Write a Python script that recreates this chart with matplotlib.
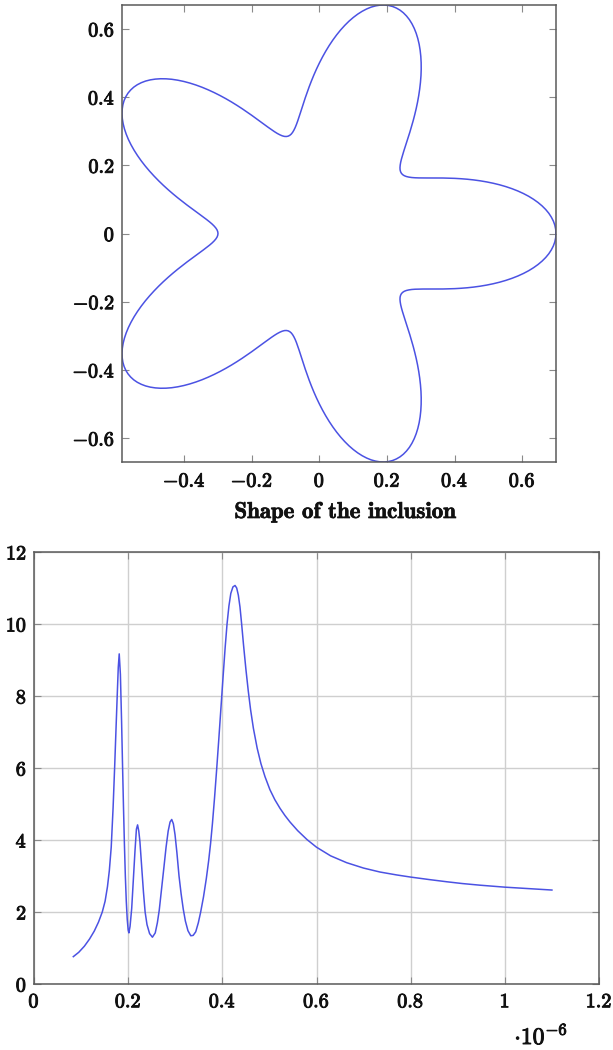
import numpy as np
import matplotlib
matplotlib.use("Agg")
import matplotlib.pyplot as plt
import matplotlib.patheffects as pe
from matplotlib.ticker import FixedLocator, FuncFormatter

# ---------------- data ----------------
# Shape of the inclusion: radius read along one half lobe (angle in degrees, 0..36)
star_angles_deg = list(range(0, 37))
star_radius = [0.7000, 0.6992, 0.6970, 0.6932, 0.6879, 0.6813, 0.6732, 0.6638, 0.6532,
               0.6414, 0.6286, 0.6147, 0.6000, 0.5845, 0.5684, 0.5518, 0.5347, 0.5174,
               0.5000, 0.4826, 0.4653, 0.4482, 0.4316, 0.4155, 0.4000, 0.3853, 0.3714,
               0.3586, 0.3468, 0.3362, 0.3268, 0.3187, 0.3121, 0.3068, 0.3030, 0.3008,
               0.3000]
n_lobes = 5

# Lower chart (x in units of 1e-6)
wavelength = [0.0835, 0.095, 0.107, 0.118, 0.128, 0.137, 0.145, 0.151, 0.156, 0.160,
              0.164, 0.168, 0.1715, 0.1745, 0.177, 0.179, 0.181, 0.1835, 0.186, 0.188,
              0.190, 0.192, 0.194, 0.196, 0.198, 0.200, 0.2015, 0.204, 0.2075, 0.211,
              0.2145, 0.2175, 0.220, 0.2225, 0.225, 0.229, 0.2325, 0.236, 0.240, 0.2455,
              0.2515, 0.2575, 0.262, 0.266, 0.271, 0.276, 0.2805, 0.285, 0.289, 0.2925,
              0.296, 0.2995, 0.3035, 0.308, 0.3125, 0.317, 0.3215, 0.327, 0.333, 0.338,
              0.3435, 0.349, 0.354, 0.360, 0.366, 0.371, 0.375, 0.379, 0.3835, 0.388,
              0.3925, 0.397, 0.4015, 0.406, 0.410, 0.414, 0.418, 0.4225, 0.427, 0.4305,
              0.434, 0.4375, 0.441, 0.445, 0.450, 0.455, 0.460, 0.466, 0.474, 0.482,
              0.4906, 0.501, 0.5115, 0.5225, 0.533, 0.5437, 0.56, 0.58, 0.60, 0.63,
              0.664, 0.70, 0.735, 0.77, 0.80, 0.84, 0.8766, 0.91, 0.947, 1.00,
              1.05, 1.10]
response = [0.76, 0.88, 1.05, 1.25, 1.47, 1.72, 2.0, 2.3, 2.7, 3.15,
            3.8, 4.9, 6.1, 7.2, 8.1, 8.8, 9.17, 8.6, 7.3, 6.1,
            4.95, 3.9, 3.0, 2.3, 1.8, 1.5, 1.42, 1.6, 2.1, 2.9,
            3.7, 4.3, 4.42, 4.25, 3.95, 3.2, 2.55, 2.0, 1.65, 1.40,
            1.30, 1.42, 1.70, 2.05, 2.65, 3.25, 3.8, 4.25, 4.5, 4.57,
            4.45, 4.15, 3.65, 3.0, 2.5, 2.08, 1.75, 1.48, 1.34, 1.35,
            1.45, 1.7, 2.0, 2.42, 2.93, 3.43, 3.9, 4.46, 5.18, 5.97,
            6.8, 7.66, 8.52, 9.35, 10.0, 10.5, 10.85, 11.03, 11.07, 11.0,
            10.8, 10.47, 10.0, 9.42, 8.75, 8.15, 7.62, 7.1, 6.55, 6.12,
            5.76, 5.40, 5.12, 4.88, 4.68, 4.50, 4.26, 4.01, 3.80, 3.56,
            3.37, 3.22, 3.11, 3.03, 2.97, 2.90, 2.84, 2.79, 2.745, 2.69,
            2.65, 2.61]

top_xticks = [-0.4, -0.2, 0, 0.2, 0.4, 0.6]
top_yticks = [-0.6, -0.4, -0.2, 0, 0.2, 0.4, 0.6]
bot_xticks = [0, 0.2, 0.4, 0.6, 0.8, 1.0, 1.2]
bot_yticks = [0, 2, 4, 6, 8, 10, 12]

# ---------------- style ----------------
plt.rcParams["mathtext.fontset"] = "cm"
LINE = "#4b52e3"
SPINE = "#5a5a5a"
TICKC = "#8a8a8a"
GRID = "#cfcfcf"
TICK_FS = 14.5
TXT = "#111111"
heavy = [pe.withStroke(linewidth=0.7, foreground=TXT)]


def fmt(v, pos=None):
    if abs(v) < 1e-12:
        s = "0"
    elif abs(v - round(v)) < 1e-9:
        s = "%d" % round(v)
    else:
        s = ("%.1f" % v)
    return r"$\mathbf{%s}$" % s


W, H = 613, 1050
fig = plt.figure(figsize=(W / 100, H / 100), dpi=100)


def rect(l, t, r, b):
    return [l / W, 1 - b / H, (r - l) / W, (b - t) / H]


def style_axes(ax):
    ax.xaxis.set_major_formatter(FuncFormatter(fmt))
    ax.yaxis.set_major_formatter(FuncFormatter(fmt))
    ax.tick_params(direction="in", length=5, width=0.8, color=TICKC,
                   top=True, right=True, labelsize=TICK_FS, labelcolor=TXT)
    for sp in ax.spines.values():
        sp.set_color(SPINE)
        sp.set_linewidth(1.1)


def heavy_labels(ax):
    fig.canvas.draw()
    for lab in ax.get_xticklabels() + ax.get_yticklabels():
        lab.set_path_effects(heavy)


# ---- star shape ----
half = list(zip(star_angles_deg, star_radius))
lobe = half + [(72 - a, r) for a, r in reversed(half[1:-1])]
ang, rad = [], []
for j in range(n_lobes):
    for a, r in lobe:
        ang.append(np.deg2rad(72 * j + a))
        rad.append(r)
ang.append(ang[0]); rad.append(rad[0])
ang = np.array(ang); rad = np.array(rad)
sx = rad * np.cos(ang)
sy = rad * np.sin(ang)

ax1 = fig.add_axes(rect(122, 5, 556, 462))
ax1.plot(sx, sy, color=LINE, lw=1.1, solid_joinstyle="round")
ax1.set_xlim(sx.min(), sx.max())
ax1.set_ylim(sy.min(), sy.max())
ax1.xaxis.set_major_locator(FixedLocator(top_xticks))
ax1.yaxis.set_major_locator(FixedLocator(top_yticks))
style_axes(ax1)
ax1.tick_params(axis="x", pad=7)
ax1.tick_params(axis="y", pad=5)

fig.text(345 / W, 1 - 518 / H, "Shape of the inclusion", fontname="cmb10",
         fontsize=16.5, ha="center", va="baseline", color=TXT,
         path_effects=[pe.withStroke(linewidth=0.5, foreground=TXT)])

# ---- lower chart ----
ax2 = fig.add_axes(rect(34, 552, 599, 984))
ax2.plot(wavelength, response, color=LINE, lw=1.1, solid_joinstyle="round")
ax2.set_xlim(0, 1.2)
ax2.set_ylim(0, 12)
ax2.xaxis.set_major_locator(FixedLocator(bot_xticks))
ax2.yaxis.set_major_locator(FixedLocator(bot_yticks))
ax2.grid(True, color=GRID, lw=1.0)
ax2.set_axisbelow(True)
style_axes(ax2)
ax2.tick_params(axis="x", pad=6)
ax2.tick_params(axis="y", pad=5)

fig.text(568 / W, 1 - 1044 / H, r"$\mathbf{\cdot 10^{-6}}$", fontsize=17,
         ha="right", va="baseline", color=TXT, path_effects=heavy)

heavy_labels(ax1)
heavy_labels(ax2)

fig.savefig("out.png", dpi=100, facecolor="white")
